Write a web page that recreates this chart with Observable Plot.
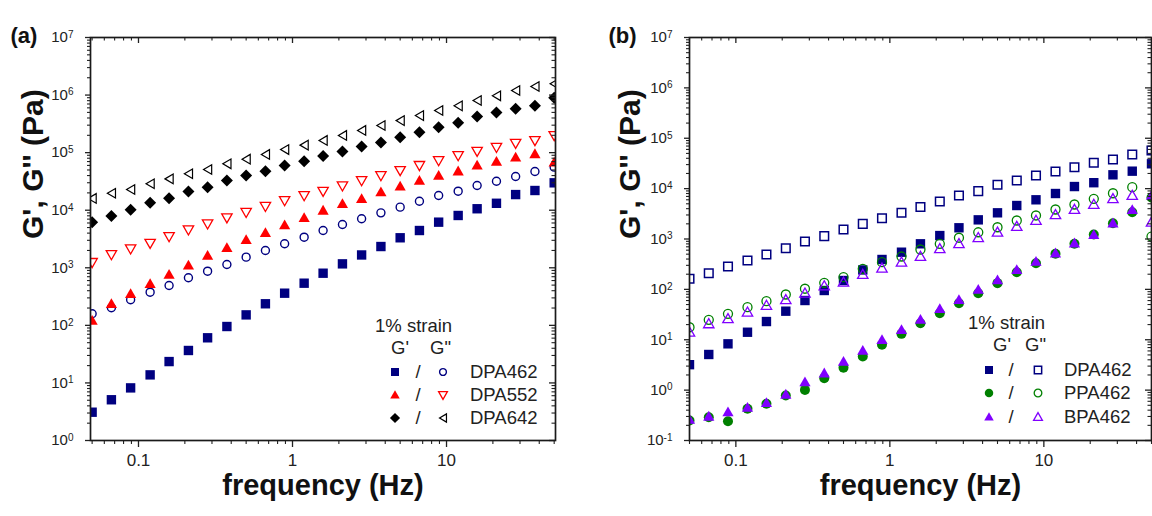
<!DOCTYPE html>
<html>
<head>
<meta charset="utf-8">
<script src="https://cdn.jsdelivr.net/npm/d3@7"></script>
<script src="https://cdn.jsdelivr.net/npm/@observablehq/plot@0.6"></script>
<style>
  html, body { margin: 0; padding: 0; background: #fff; overflow: hidden; }
  #chart { position: relative; width: 1152px; height: 516px; overflow: hidden;
           font-family: "Liberation Sans", Arial, sans-serif; }
  #chart svg { position: absolute; top: 0; overflow: visible; }
</style>
</head>
<body>
<div id="chart"></div>
<script>
// Oscillatory frequency sweep, 1% strain (Hz)
const freq = [0.05, 0.0667, 0.0889, 0.119, 0.158, 0.211, 0.281, 0.375, 0.5, 0.667, 0.889,
              1.19, 1.58, 2.11, 2.81, 3.75, 5, 6.67, 8.89, 11.9, 15.8, 21.1, 28.1, 37.5, 50];

// Panel (a): storage (G') and loss (G'') moduli, Pa
const dpa462_G1 = [3.1, 5.1, 8.2, 13.8, 23.5, 36.6, 60.8, 95.5, 152, 237, 362, 540, 805, 1170, 1670,
                   2340, 3320, 4440, 6200, 8100, 10600, 13200, 18700, 22000, 29900];
const dpa462_G2 = [159, 202, 278, 377, 492, 670, 873, 1140, 1530, 2000, 2610, 3400, 4440, 5650, 7100,
                   9000, 11300, 14300, 18000, 21400, 26900, 31900, 38500, 47000, 56000];
const dpa552_G1 = [121, 237, 353, 527, 764, 1100, 1630, 2220, 3060, 4050, 5500, 7400, 9900, 12900, 15800,
                   20600, 26100, 32800, 40000, 47600, 60000, 70000, 83000, 95000, 68000];
const dpa552_G2 = [1240, 1700, 2140, 2670, 3490, 4570, 5810, 7400, 9200, 11700, 14700, 18000, 21400, 26500,
                   32800, 40000, 49000, 60000, 73000, 89000, 106000, 124000, 146000, 163000, 199000];
const dpa642_G1 = [6200, 7900, 10200, 13500, 16200, 21100, 25100, 32800, 40000, 47600, 59800, 71000, 87000,
                   105000, 128000, 150000, 185000, 226000, 277000, 330000, 425000, 500000, 580000, 650000, 900000];
const dpa642_G2 = [16000, 19700, 22900, 28800, 35000, 43000, 51000, 64000, 77000, 93000, 113000, 135000,
                   163000, 199000, 243000, 296000, 360000, 440000, 540000, 650000, 805000, 970000, 1200000,
                   1410000, 1570000];

// Panel (b)
const b_dpa462_G1 = [3.2, 5.1, 8.3, 14.1, 23.0, 36.9, 60.1, 95, 150, 243, 392, 547, 803, 1170, 1670, 2400,
                     3310, 4620, 6000, 8000, 11000, 13100, 18800, 22200, 31100];
const b_dpa462_G2 = [162, 209, 284, 374, 492, 656, 891, 1140, 1540, 2000, 2590, 3310, 4320, 5550, 7300, 8900,
                     11900, 14500, 18200, 21900, 26600, 32600, 37900, 47600, 57000];
const ppa462_G1 = [0.249, 0.290, 0.242, 0.426, 0.535, 0.782, 1.01, 1.73, 2.77, 4.65, 7.94, 13.1, 21.3, 33.7,
                   53.2, 84, 133, 219, 331, 509, 803, 1230, 2060, 3400, 6670];
const ppa462_G2 = [17.7, 24.9, 32.7, 44.3, 58.2, 79.1, 103, 135, 175, 256, 346, 449, 619, 803, 1060, 1360,
                   1710, 2330, 2930, 3850, 4840, 6280, 8100, 10700, 1120];
const bpa462_G1 = [0.26, 0.30, 0.365, 0.45, 0.56, 0.82, 1.44, 2.17, 3.70, 6.12, 9.98, 15.8, 25.2, 41.1, 62.1,
                   99.5, 153, 245, 357, 523, 826, 1210, 2060, 3800, 7300];
const bpa462_G2 = [14.1, 20.7, 26.1, 35.2, 47.9, 62.1, 84, 117, 139, 197, 263, 346, 450, 639, 803, 1060, 1360,
                   1770, 2330, 3020, 3850, 4840, 6280, 7300, 2150];

// Legend names
const namesA = ["DPA462", "DPA552", "DPA642"];
const namesB = ["DPA462", "PPA462", "BPA462"];

// Axis ticks
const xMajor = [0.1, 1, 10];
const xMinor = [0.05, 0.06, 0.07, 0.08, 0.09, 0.2, 0.3, 0.4, 0.5, 0.6, 0.7, 0.8, 0.9,
                2, 3, 4, 5, 6, 7, 8, 9, 20, 30, 40, 50];
const yMajorA = [1, 10, 100, 1e3, 1e4, 1e5, 1e6, 1e7];
const yMajorB = [0.1, 1, 10, 100, 1e3, 1e4, 1e5, 1e6, 1e7];
const minorsOf = decades => decades.slice(0, -1).flatMap(d => [2, 3, 4, 5, 6, 7, 8, 9].map(m => m * d));

// Marker shapes; r (pixels) is the half-width of each shape
const half = s => Math.sqrt(s / Math.PI);
const sym = {
  square:  {draw(c, s) { const h = half(s); c.rect(-h, -h, 2 * h, 2 * h); }},
  diamond: {draw(c, s) { const h = half(s); c.moveTo(0, -h); c.lineTo(h, 0); c.lineTo(0, h); c.lineTo(-h, 0); c.closePath(); }},
  triUp:   {draw(c, s) { const h = half(s); c.moveTo(0, -h); c.lineTo(h, 0.75 * h); c.lineTo(-h, 0.75 * h); c.closePath(); }},
  triDown: {draw(c, s) { const h = half(s); c.moveTo(0, h); c.lineTo(h, -0.75 * h); c.lineTo(-h, -0.75 * h); c.closePath(); }},
  triLeft: {draw(c, s) { const h = half(s); c.moveTo(-0.85 * h, 0); c.lineTo(0.85 * h, -h); c.lineTo(0.85 * h, h); c.closePath(); }},
  circle:  {draw(c, s) { const h = half(s); c.moveTo(h, 0); c.arc(0, 0, h, 0, 2 * Math.PI); }}
};

const NAVY = "#000080", RED = "#ff0000", BLACK = "#000000", GREEN = "#008000", VIOLET = "#8000ff";

const stylesA = [
  [{symbol: sym.square, r: 4.7, fill: NAVY}, {symbol: sym.circle, r: 4, stroke: NAVY, sw: 1.4}],
  [{symbol: sym.triUp, r: 5.6, fill: RED}, {symbol: sym.triDown, r: 5.2, stroke: RED, sw: 1.3}],
  [{symbol: sym.diamond, r: 6, fill: BLACK}, {symbol: sym.triLeft, r: 4.8, stroke: BLACK, sw: 1.2}]
];
const stylesB = [
  [{symbol: sym.square, r: 4.7, fill: NAVY}, {symbol: sym.square, r: 4.3, stroke: NAVY, sw: 1.5}],
  [{symbol: sym.circle, r: 5, fill: GREEN}, {symbol: sym.circle, r: 4.5, stroke: GREEN, sw: 1.3}],
  [{symbol: sym.triUp, r: 5.6, fill: VIOLET}, {symbol: sym.triUp, r: 5.2, stroke: VIOLET, sw: 1.3}]
];

function series(values, st) {
  return Plot.dot(freq.map((f, i) => ({f, v: values[i]})), {
    x: "f", y: "v", r: st.r, symbol: st.symbol,
    fill: st.fill ?? "none", stroke: st.stroke ?? "none", strokeWidth: st.sw ?? 0, clip: true
  });
}

function frameMarks(yMajor, W, H) {
  const yMinor = minorsOf(yMajor);
  return [
    Plot.axisX(xMajor, {anchor: "bottom", tickSize: 7, tickPadding: 6, fontSize: 17, strokeWidth: 1.3,
                        label: null, color: "#222", tickFormat: d => String(d)}),
    Plot.axisX(xMinor, {anchor: "bottom", tickSize: 4, strokeWidth: 1.1, label: null, color: "#222", tickFormat: () => ""}),
    Plot.axisY(yMajor, {anchor: "left", tickSize: 5, tickPadding: 12, fontSize: 15, strokeWidth: 1.3,
                        label: null, color: "#222", tickFormat: d => "10^" + Math.round(Math.log10(d))}),
    Plot.axisY(yMinor, {anchor: "left", tickSize: 3, strokeWidth: 1.1, label: null, color: "#222", tickFormat: () => ""}),
    Plot.tickX(xMajor, {x: d => d, insetBottom: H - 6, stroke: "#222", strokeWidth: 1.3}),
    Plot.tickX(xMinor, {x: d => d, insetBottom: H - 3.5, stroke: "#222", strokeWidth: 1.1}),
    Plot.tickY(yMajor, {y: d => d, insetLeft: W - 6, stroke: "#222", strokeWidth: 1.3}),
    Plot.tickY(yMinor, {y: d => d, insetLeft: W - 3.5, stroke: "#222", strokeWidth: 1.1}),
    Plot.frame({stroke: "#1a1a1a", strokeWidth: 1.7})
  ];
}

function titleMarks(panel, dxY, dxP) {
  return [
    Plot.text(["frequency (Hz)"], {frameAnchor: "bottom", dy: 54, fontSize: 29, fontWeight: "bold", fill: "#111"}),
    Plot.text(["G', G'' (Pa)"], {frameAnchor: "left", rotate: -90, dx: dxY, fontSize: 30, fontWeight: "bold", fill: "#111"}),
    Plot.text([panel], {frameAnchor: "top-left", textAnchor: "start", dx: dxP, dy: -10, fontSize: 22, fontWeight: "bold", fill: "#111"})
  ];
}

function superscripts(svg) {
  d3.select(svg).selectAll('g[aria-label="y-axis tick label"] text').each(function () {
    const t = this.textContent;
    if (!t.includes("^")) return;
    const [base, exp] = t.split("^");
    this.textContent = "";
    const s = d3.select(this);
    s.append("tspan").text(base);
    s.append("tspan").attr("font-size", "10px").attr("dy", "-0.45em").text(exp);
  });
}

const chart = document.getElementById("chart");
const font = "'Liberation Sans', Arial, sans-serif";

// Panel (a)
{
  const W = 576, mL = 90, mR = 21, mT = 37, mB = 76;
  const pw = W - mL - mR, ph = 516 - mT - mB;
  const groups = [[dpa462_G1, dpa462_G2], [dpa552_G1, dpa552_G2], [dpa642_G1, dpa642_G2]];
  const svg = Plot.plot({
    width: W, height: 516, marginLeft: mL, marginRight: mR, marginTop: mT, marginBottom: mB,
    x: {type: "log", domain: [0.0488, 51]},
    y: {type: "log", domain: [1, 1e7]},
    style: {fontFamily: font, background: "transparent", overflow: "visible"},
    marks: [
      ...groups.flatMap((g, i) => [series(g[0], stylesA[i][0]), series(g[1], stylesA[i][1])]),
      ...frameMarks(yMajorA, pw, ph),
      ...titleMarks("(a)", -57, -80)
    ]
  });
  svg.style.left = "0px";
  superscripts(svg);
  chart.appendChild(svg);
}

// Panel (b)
{
  const W = 576, mL = 113, mR = 1, mT = 37, mB = 76;
  const pw = W - mL - mR, ph = 516 - mT - mB;
  const groups = [[b_dpa462_G1, b_dpa462_G2], [ppa462_G1, ppa462_G2], [bpa462_G1, bpa462_G2]];
  const svg = Plot.plot({
    width: W, height: 516, marginLeft: mL, marginRight: mR, marginTop: mT, marginBottom: mB,
    x: {type: "log", domain: [0.05, 50]},
    y: {type: "log", domain: [0.1, 1e7]},
    style: {fontFamily: font, background: "transparent", overflow: "visible"},
    marks: [
      ...groups.flatMap((g, i) => [series(g[0], stylesB[i][0]), series(g[1], stylesB[i][1])]),
      ...frameMarks(yMajorB, pw, ph),
      ...titleMarks("(b)", -59, -81)
    ]
  });
  svg.style.left = "576px";
  superscripts(svg);
  chart.appendChild(svg);
}

// Legends
function legend(layer, L, names, styles) {
  const g = layer.append("g").attr("fill", "#222").attr("font-size", 18.5).attr("font-family", font);
  g.append("text").attr("x", L.strain).attr("y", L.head1).text("1% strain");
  g.append("text").attr("x", L.g1).attr("y", L.head2).text("G'");
  g.append("text").attr("x", L.g2).attr("y", L.head2).text("G\"");
  names.forEach((name, i) => {
    const y = L.rows[i];
    styles[i].forEach((st, j) => {
      g.append("path")
        .attr("transform", `translate(${j ? L.m2 : L.m1},${y})`)
        .attr("d", d3.symbol(st.symbol, Math.PI * (st.r * 0.85) ** 2)())
        .attr("fill", st.fill ?? "none").attr("stroke", st.stroke ?? "none").attr("stroke-width", st.sw ?? 0);
    });
    g.append("text").attr("x", L.slash).attr("y", y).attr("dy", "0.35em").attr("text-anchor", "middle").text("/");
    g.append("text").attr("x", L.name).attr("y", y).attr("dy", "0.35em").text(name);
  });
}

const layer = d3.select(chart).append("svg")
  .attr("width", 1152).attr("height", 516).style("left", "0px");
legend(layer, {strain: 375, head1: 332, g1: 391, g2: 430, head2: 354, rows: [372, 395, 418],
               m1: 395, slash: 418, m2: 443, name: 470}, namesA, stylesA);
legend(layer, {strain: 968, head1: 329, g1: 993, g2: 1025, head2: 351, rows: [370, 393, 417],
               m1: 989, slash: 1011, m2: 1038, name: 1064}, namesB, stylesB);
</script>
</body>
</html>
